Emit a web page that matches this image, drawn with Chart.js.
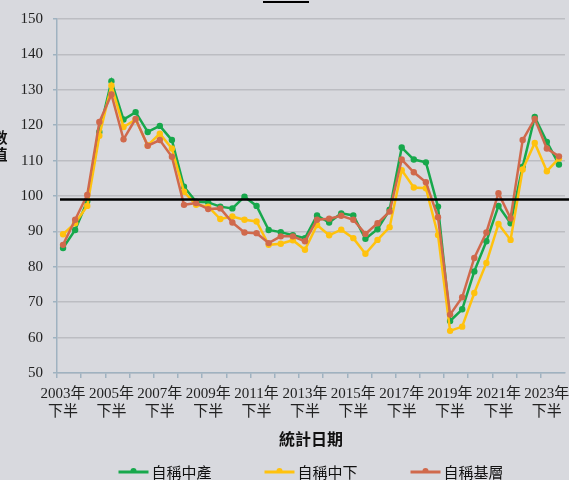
<!DOCTYPE html>
<html>
<head>
<meta charset="utf-8">
<script src="https://cdn.jsdelivr.net/npm/chart.js@4.4.0/dist/chart.umd.min.js"></script>
<style>
  html, body { margin: 0; padding: 0; background: #d8d9de; }
</style>
</head>
<body>
<canvas id="lineChart" width="569" height="480"></canvas>
<script>
// data
const categories = [
    '2003年下半', '2004年上半', '2004年下半', '2005年上半', '2005年下半', '2006年上半', '2006年下半',
    '2007年上半', '2007年下半', '2008年上半', '2008年下半', '2009年上半', '2009年下半', '2010年上半',
    '2010年下半', '2011年上半', '2011年下半', '2012年上半', '2012年下半', '2013年上半', '2013年下半',
    '2014年上半', '2014年下半', '2015年上半', '2015年下半', '2016年上半', '2016年下半', '2017年上半',
    '2017年下半', '2018年上半', '2018年下半', '2019年上半', '2019年下半', '2020年上半', '2020年下半',
    '2021年上半', '2021年下半', '2022年上半', '2022年下半', '2023年上半', '2023年下半', '2024年上半'
];
const middleClass = [
    85.3, 90.4, 98.5, 118.1, 132.4, 121.6, 123.7, 118.1, 119.8, 115.8, 102.6, 98.4, 98.2, 97.0,
    96.5, 99.8, 97.2, 90.4, 89.8, 88.9, 88.1, 94.5, 92.5, 95.1, 94.5, 87.9, 90.6, 96.1,
    113.7, 110.3, 109.5, 97.0, 64.7, 68.0, 78.7, 87.2, 97.2, 92.3, 108.3, 122.3, 115.3, 108.9
];
const lowerMiddle = [
    89.2, 92.3, 97.2, 117.0, 131.2, 119.5, 121.6, 114.3, 117.6, 113.4, 101.2, 97.5, 97.0, 93.5,
    94.2, 93.3, 92.8, 86.2, 86.5, 87.5, 84.8, 91.8, 88.9, 90.5, 88.1, 83.7, 87.6, 91.2,
    107.3, 102.4, 102.2, 89.0, 61.9, 63.1, 72.6, 81.1, 92.1, 87.6, 107.5, 115.0, 107.0, 110.6
];
const grassroots = [
    86.2, 93.3, 100.3, 120.9, 128.7, 116.0, 121.8, 114.2, 115.8, 111.1, 97.5, 98.0, 96.3, 96.5,
    92.5, 89.7, 89.5, 86.7, 88.6, 88.6, 87.2, 93.3, 93.6, 94.4, 93.3, 89.3, 92.3, 95.6,
    110.3, 106.7, 103.9, 94.0, 66.5, 71.4, 82.5, 89.7, 100.8, 93.7, 115.8, 121.8, 113.4, 111.2
];
const seriesNames = ['自稱中產', '自稱中下', '自稱基層'];
const refValue = 99;
const yTitleChars = ['數', '值'];
const xTitle = '統計日期';

const bg = '#d8d9de';
const axisColor = '#9fb2c0';
const gridColor = '#bcbdc2';
const serif = "'Liberation Serif', 'Noto Sans CJK TC', serif";
const sans = "'Noto Sans CJK TC', sans-serif";

// background, reference line, cut-off y title and legend
const extras = {
    id: 'extras',
    beforeDraw(chart) {
        const ctx = chart.ctx;
        ctx.save();
        ctx.fillStyle = bg;
        ctx.fillRect(0, 0, chart.width, chart.height);
        ctx.restore();
    },
    afterDraw(chart) {
        const { ctx, chartArea } = chart;
        const y = chart.scales.y;
        ctx.save();

        // horizontal black line
        const yy = y.getPixelForValue(refValue);
        ctx.strokeStyle = '#000';
        ctx.lineWidth = 2.5;
        ctx.beginPath();
        ctx.moveTo(chartArea.left + 3, yy);
        ctx.lineTo(chart.width, yy);
        ctx.stroke();

        // stub of something cut off at the top
        ctx.lineWidth = 2;
        ctx.beginPath();
        ctx.moveTo(263, 2);
        ctx.lineTo(309, 2);
        ctx.stroke();

        // y title, stacked and half outside the picture
        ctx.fillStyle = '#111';
        ctx.font = 'bold 15px ' + sans;
        ctx.textAlign = 'center';
        ctx.textBaseline = 'middle';
        yTitleChars.forEach((c, i) => ctx.fillText(c, 0, 137 + i * 17));

        // legend
        ctx.font = '15px ' + sans;
        ctx.textAlign = 'left';
        const ds = chart.data.datasets;
        const gap = 53, lineW = 30, pad = 3;
        const widths = ds.map(d => lineW + pad + ctx.measureText(d.label).width);
        const total = widths.reduce((a, b) => a + b, 0) + gap * (ds.length - 1);
        let x = (chartArea.left + chartArea.right) / 2 - total / 2;
        const ly = 472;
        ds.forEach((d, i) => {
            ctx.strokeStyle = d.borderColor;
            ctx.lineWidth = 3;
            ctx.beginPath();
            ctx.moveTo(x, ly);
            ctx.lineTo(x + lineW, ly);
            ctx.stroke();
            ctx.fillStyle = d.borderColor;
            ctx.beginPath();
            ctx.arc(x + lineW / 2, ly - 1, 3, Math.PI, 0);
            ctx.fill();
            ctx.fillStyle = '#111';
            ctx.fillText(d.label, x + lineW + pad, ly);
            x += widths[i] + gap;
        });
        ctx.restore();
    }
};

function series(label, data, color, order) {
    return {
        label: label,
        data: data,
        borderColor: color,
        backgroundColor: color,
        borderWidth: 2.5,
        pointRadius: 3.2,
        pointHoverRadius: 3.2,
        pointBorderWidth: 0,
        tension: 0,
        order: order
    };
}

const ctx = document.getElementById('lineChart').getContext('2d');

new Chart(ctx, {
    type: 'line',
    data: {
        labels: categories,
        datasets: [
            series(seriesNames[0], middleClass, '#17a84c', 3),
            series(seriesNames[1], lowerMiddle, '#ffc20e', 2),
            series(seriesNames[2], grassroots, '#d0694c', 1)
        ]
    },
    options: {
        responsive: false,
        animation: false,
        layout: {
            padding: { top: 19, right: 4, left: 0, bottom: 31 }
        },
        scales: {
            y: {
                min: 50,
                max: 150,
                afterFit: s => { s.width = 57; },
                ticks: {
                    stepSize: 10,
                    color: '#222',
                    padding: 10,
                    font: { family: serif, size: 15 }
                },
                grid: {
                    color: gridColor,
                    lineWidth: 1.5,
                    tickColor: axisColor,
                    tickLength: 4
                },
                border: { color: axisColor, width: 1.5 }
            },
            x: {
                offset: true,
                afterFit: s => { s.height = 76; },
                ticks: {
                    autoSkip: false,
                    maxRotation: 0,
                    color: '#222',
                    padding: 7,
                    font: { family: serif, size: 15, lineHeight: 1.2 },
                    callback: function (value, index) {
                        const label = this.getLabelForValue(value);
                        return index % 4 === 0 ? [label.slice(0, 5), label.slice(5)] : '';
                    }
                },
                grid: {
                    offset: true,
                    drawOnChartArea: false,
                    tickLength: 5,
                    lineWidth: 1.5,
                    color: c => (c.index % 2 === 0 ? axisColor : 'rgba(0,0,0,0)')
                },
                border: { color: axisColor, width: 1.5 },
                title: {
                    display: true,
                    text: xTitle,
                    color: '#111',
                    padding: 0,
                    font: { family: sans, size: 16, weight: 'bold', lineHeight: 1.2 }
                }
            }
        },
        plugins: {
            legend: { display: false },
            tooltip: { enabled: false }
        }
    },
    plugins: [extras]
});
</script>
</body>
</html>
